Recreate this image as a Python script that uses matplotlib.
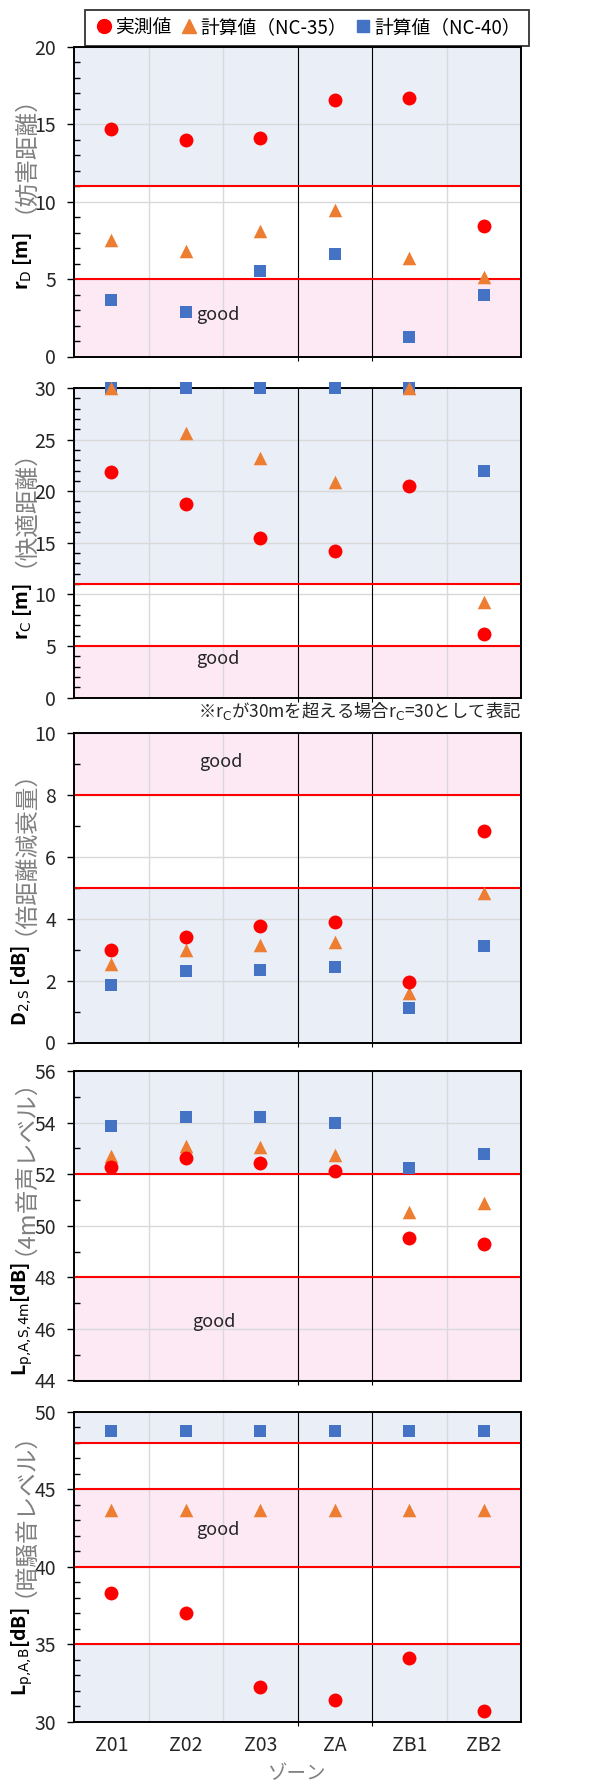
import numpy as np
import matplotlib.pyplot as plt
from matplotlib.ticker import MultipleLocator
from matplotlib.lines import Line2D

plt.rcParams['font.family'] = ['Noto Sans CJK JP', 'DejaVu Sans']

# Zones (x categories)
zones = ['Z01', 'Z02', 'Z03', 'ZA', 'ZB1', 'ZB2']

# r_D (disturbance distance)
rd_meas = [14.7, 14.0, 14.1, 16.6, 16.7, 8.45]
rd_nc35 = [7.5, 6.8, 8.1, 9.45, 6.35, 5.15]
rd_nc40 = [3.65, 2.9, 5.5, 6.65, 1.25, 3.95]

# r_C (comfort distance), capped at 30
rc_meas = [21.9, 18.8, 15.5, 14.2, 20.5, 6.2]
rc_nc35 = [30, 25.6, 23.2, 20.9, 30, 9.3]
rc_nc40 = [30, 30, 30, 30, 30, 22.0]

# D_2,S (spatial decay rate)
d2s_meas = [3.0, 3.4, 3.78, 3.9, 1.94, 6.84]
d2s_nc35 = [2.55, 2.98, 3.15, 3.25, 1.6, 4.82]
d2s_nc40 = [1.86, 2.32, 2.34, 2.43, 1.1, 3.13]

# L_p,AS,4m (speech level at 4 m)
lp4_meas = [52.28, 52.61, 52.44, 52.12, 49.54, 49.28]
lp4_nc35 = [52.71, 53.1, 53.06, 52.76, 50.54, 50.89]
lp4_nc40 = [53.88, 54.2, 54.2, 53.97, 52.25, 52.78]

# L_p,A,B (background noise level)
lpb_meas = [38.33, 37.03, 32.24, 31.38, 34.1, 30.69]
lpb_nc35 = [43.68, 43.68, 43.68, 43.68, 43.68, 43.68]
lpb_nc40 = [48.77, 48.77, 48.77, 48.77, 48.77, 48.77]

BLUE_BG = '#E9EEF7'
PINK_BG = '#FDE9F4'
C_MEAS = '#FF0000'
C_NC35 = '#ED7D31'
C_NC40 = '#4472C4'

# ylab_top / sub_bot: pixel rows (from top) where the two y label parts meet
panels = [
    dict(data=(rd_meas, rd_nc35, rd_nc40), ylim=(0, 20), step=5,
         bands=[(0, 5, PINK_BG), (11, 20, BLUE_BG)], red=[5, 11],
         good=(1.43, 2.7), ylab=r'r$_\mathrm{D}$ [m]', sub='（妨害距離）',
         ylab_top=232, sub_bot=213),
    dict(data=(rc_meas, rc_nc35, rc_nc40), ylim=(0, 30), step=5,
         bands=[(0, 5, PINK_BG), (11, 30, BLUE_BG)], red=[5, 11],
         good=(1.43, 3.7), ylab=r'r$_\mathrm{C}$ [m]', sub='（快適距離）',
         ylab_top=583, sub_bot=567),
    dict(data=(d2s_meas, d2s_nc35, d2s_nc40), ylim=(0, 10), step=2,
         bands=[(8, 10, PINK_BG), (0, 5, BLUE_BG)], red=[5, 8],
         good=(1.47, 9.05), ylab=r'D$_\mathrm{2{,}S}$ [dB]', sub='（倍距離減衰量）',
         ylab_top=945, sub_bot=935),
    dict(data=(lp4_meas, lp4_nc35, lp4_nc40), ylim=(44, 56), step=2,
         bands=[(44, 48, PINK_BG), (52, 56, BLUE_BG)], red=[48, 52],
         good=(1.38, 46.25), ylab=r'L$_\mathrm{p{,}A{,}S{,}4m}$[dB]', sub='（4m音声レベル）',
         ylab_top=1262, sub_bot=1255),
    dict(data=(lpb_meas, lpb_nc35, lpb_nc40), ylim=(30, 50), step=5,
         bands=[(48, 50, BLUE_BG), (40, 45, PINK_BG), (30, 35, BLUE_BG)],
         red=[35, 40, 45, 48],
         good=(1.43, 42.4), ylab=r'L$_\mathrm{p{,}A{,}B}$[dB]', sub='（暗騒音レベル）',
         ylab_top=1607, sub_bot=1597),
]

W, H = 594, 1782
fig = plt.figure(figsize=(W / 100, H / 100), dpi=100)

left = 74 / W
width = (521 - 74) / W
tops = [47, 388, 733, 1071, 1412]
ph = 309.5

x = np.arange(len(zones))
for i, (p, top) in enumerate(zip(panels, tops)):
    ax = fig.add_axes([left, 1 - (top + ph) / H, width, ph / H])
    ax.set_xlim(-0.5, len(zones) - 0.5)
    ax.set_ylim(*p['ylim'])
    ax.set_axisbelow(True)

    for lo, hi, c in p['bands']:
        ax.axhspan(lo, hi, color=c, lw=0, zorder=0)

    ax.yaxis.set_major_locator(MultipleLocator(p['step']))
    ax.yaxis.set_minor_locator(MultipleLocator(1))
    ax.grid(axis='y', which='major', color='#D9D9D9', lw=1.0)
    for b in [0.5, 1.5, 4.5]:
        ax.axvline(b, color='#D9D9D9', lw=1.0, zorder=1)
    for b in [2.5, 3.5]:
        ax.axvline(b, color='black', lw=0.8, zorder=1.5)
    for y in p['red']:
        ax.axhline(y, color=C_MEAS, lw=1.5, zorder=2)

    meas, nc35, nc40 = p['data']
    ax.scatter(x, nc40, marker='s', s=75, color=C_NC40, lw=0, zorder=3, clip_on=False)
    ax.scatter(x, nc35, marker='^', s=95, color=C_NC35, lw=0, zorder=4, clip_on=False)
    ax.scatter(x, meas, marker='o', s=100, color=C_MEAS, lw=0, zorder=5, clip_on=False)

    ax.text(p['good'][0], p['good'][1], 'good', ha='center', va='center',
            fontsize=13, color='#262626', zorder=6)

    for s in ax.spines.values():
        s.set_linewidth(1.4)
        s.set_color('black')

    ax.tick_params(axis='y', which='major', direction='out', length=5, width=1,
                   labelsize=14, labelcolor='#262626', pad=8)
    ax.tick_params(axis='y', which='minor', direction='in', length=4, width=1)
    ax.set_xticks(x)
    ax.set_xticks([2.5, 3.5], minor=True)
    ax.tick_params(axis='x', which='major', length=0, labelsize=14,
                   labelcolor='#262626', pad=10)
    ax.tick_params(axis='x', which='minor', direction='out', length=3, width=0.8)
    if i == len(panels) - 1:
        ax.set_xticklabels(zones)
    else:
        ax.set_xticklabels([])

    # y label: black symbol part (lower) + grey description part (upper)
    fig.text(22 / W, 1 - p['ylab_top'] / H, p['ylab'], rotation=90, ha='center',
             va='top', fontsize=14, fontweight='bold', color='black')
    fig.text(13 / W, 1 - p['sub_bot'] / H, p['sub'], rotation=90, ha='center',
             va='bottom', fontsize=17, color='#808080')

# note under r_C panel
fig.text(521 / W, 1 - 711 / H, r'※r$_\mathrm{C}$が30mを超える場合r$_\mathrm{C}$=30として表記',
         ha='right', va='center', fontsize=12.5, color='#262626')

# x axis title
fig.text(297.5 / W, 1 - 1774 / H, 'ゾーン', ha='center', va='center',
         fontsize=14, color='#7F7F7F')

# legend
handles = [
    Line2D([], [], marker='o', ls='', ms=10, color=C_MEAS),
    Line2D([], [], marker='^', ls='', ms=10, color=C_NC35),
    Line2D([], [], marker='s', ls='', ms=9, color=C_NC40),
]
labels = ['実測値', '計算値（NC-35）', '計算値（NC-40）']
leg = fig.legend(handles, labels, loc='center', bbox_to_anchor=(307 / W, 1 - 27.5 / H),
                 ncol=3, fontsize=13.5, frameon=True, fancybox=False,
                 handletextpad=0.0, columnspacing=0.3, handlelength=1.2,
                 borderpad=0.4, borderaxespad=0)
leg.get_frame().set_edgecolor('black')
leg.get_frame().set_linewidth(1.3)

plt.savefig('out.png', dpi=100)
plt.close()
